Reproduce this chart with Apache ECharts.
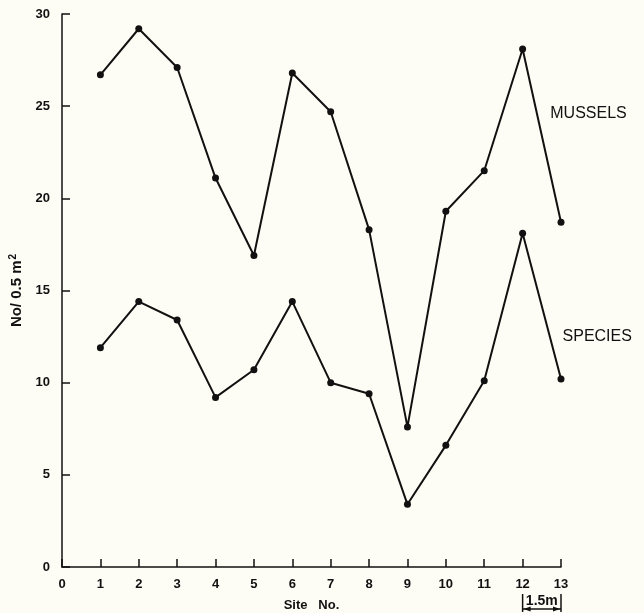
<!DOCTYPE html>
<html>
<head>
<meta charset="utf-8">
<script src="https://cdn.jsdelivr.net/npm/echarts@6/dist/echarts.min.js"></script>
<style>
html,body{margin:0;padding:0;background:#fdfdf5;}
#c{width:644px;height:613px;}
</style>
</head>
<body>
<div id="c"></div>
<script>
const sites = [1, 2, 3, 4, 5, 6, 7, 8, 9, 10, 11, 12, 13];
const mussels = [26.7, 29.2, 27.1, 21.1, 16.9, 26.8, 24.7, 18.3, 7.6, 19.3, 21.5, 28.1, 18.7];
const species = [11.9, 14.4, 13.4, 9.2, 10.7, 14.4, 10.0, 9.4, 3.4, 6.6, 10.1, 18.1, 10.2];
const yTicks = [0, 5, 10, 15, 20, 25, 30];
const xTicks = [0, 1, 2, 3, 4, 5, 6, 7, 8, 9, 10, 11, 12, 13];

const ink = '#111';
const font = 'Liberation Sans, Arial, sans-serif';

const chart = echarts.init(document.getElementById('c'), null, {renderer: 'canvas'});

function pairs(vals) { return sites.map((s, i) => [s, vals[i]]); }

const lineSeries = (name, vals) => ({
  name, type: 'line', data: pairs(vals),
  symbol: 'circle', symbolSize: 7,
  lineStyle: {color: ink, width: 2},
  itemStyle: {color: ink},
  animation: false
});

chart.setOption({
  backgroundColor: '#fdfdf5',
  animation: false,
  grid: {left: 62, right: 83, top: 14, bottom: 46, containLabel: false, outerBoundsMode: 'none'},
  xAxis: {
    type: 'value', min: xTicks[0], max: xTicks[xTicks.length - 1], interval: 1,
    name: 'Site   No.', nameLocation: 'middle', nameGap: 32,
    nameTextStyle: {color: ink, fontFamily: font, fontWeight: 'bold', fontSize: 13},
    axisLine: {show: true, lineStyle: {color: ink, width: 1.5}},
    axisTick: {show: true, inside: true, length: 8, lineStyle: {color: ink, width: 1.5}},
    axisLabel: {color: ink, fontFamily: font, fontWeight: 'bold', fontSize: 13, margin: 11},
    splitLine: {show: false}
  },
  yAxis: {
    type: 'value', min: yTicks[0], max: yTicks[yTicks.length - 1], interval: 5,
    name: 'No/ 0.5 m{sup|2}', nameLocation: 'middle', nameGap: 36, nameRotate: 90,
    nameTextStyle: {
      color: ink, fontFamily: font, fontWeight: 'bold', fontSize: 15,
      rich: {sup: {color: ink, fontFamily: font, fontWeight: 'bold', fontSize: 10, verticalAlign: 'top', padding: [0, 0, 8, 1]}}
    },
    axisLine: {show: true, lineStyle: {color: ink, width: 1.5}},
    axisTick: {show: true, inside: true, length: 8, lineStyle: {color: ink, width: 1.5}},
    axisLabel: {color: ink, fontFamily: font, fontWeight: 'bold', fontSize: 13, margin: 12},
    splitLine: {show: false}
  },
  series: [lineSeries('Mussels', mussels), lineSeries('Species', species)]
});

// annotations placed via the chart's own coordinate conversion
const px = (x, y) => chart.convertToPixel({gridIndex: 0}, [x, y]);
const mPos = px(12.72, 24.6);
const sPos = px(13.04, 12.5);
const a = px(12, 0), b = px(13, 0);
const y0 = a[1];
const barTop = y0 + 27, barBot = y0 + 45, arrY = y0 + 42;
const lineSt = {stroke: ink, lineWidth: 1.5};

chart.setOption({
  graphic: [
    {type: 'text', x: mPos[0], y: mPos[1], style: {text: 'MUSSELS', fill: ink, font: '16px ' + font, textVerticalAlign: 'middle'}},
    {type: 'text', x: sPos[0], y: sPos[1], style: {text: 'SPECIES', fill: ink, font: '16px ' + font, textVerticalAlign: 'middle'}},
    {type: 'line', shape: {x1: a[0], y1: barTop, x2: a[0], y2: barBot}, style: lineSt},
    {type: 'line', shape: {x1: b[0], y1: barTop, x2: b[0], y2: barBot}, style: lineSt},
    {type: 'line', shape: {x1: a[0], y1: arrY, x2: b[0], y2: arrY}, style: lineSt},
    {type: 'polygon', shape: {points: [[a[0] + 1, arrY], [a[0] + 8, arrY - 2.5], [a[0] + 8, arrY + 2.5]]}, style: {fill: ink}},
    {type: 'polygon', shape: {points: [[b[0] - 1, arrY], [b[0] - 8, arrY - 2.5], [b[0] - 8, arrY + 2.5]]}, style: {fill: ink}},
    {type: 'text', x: (a[0] + b[0]) / 2, y: y0 + 34, style: {text: '1.5m', fill: ink, font: 'bold 14px ' + font, textAlign: 'center', textVerticalAlign: 'middle'}}
  ]
});
</script>
</body>
</html>
